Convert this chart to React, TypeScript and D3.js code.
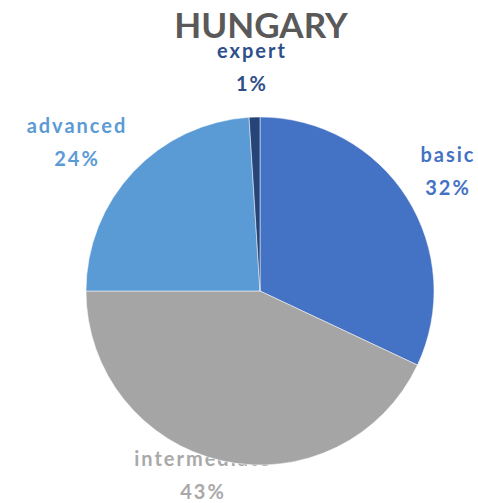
import React, { useEffect, useRef } from 'react';
import * as d3 from 'd3';

const categories = ['basic', 'intermediate', 'advanced', 'expert'];
const values = [32, 43, 24, 1];
const colors = ['#4472C4', '#A5A5A5', '#5B9BD5', '#264478'];
const labelColors = ['#4472C4', '#A9A9A9', '#5B9BD5', '#2E4F8A'];
// label anchor (centre x, first baseline) for each slice, as placed in the source chart
const labelPos: [number, number][] = [
  [447, 162],
  [202, 466],
  [76, 133],
  [251, 58],
];

const App = () => {
  const ref = useRef<SVGSVGElement>(null);

  useEffect(() => {
    const width = 478;
    const height = 503;
    const cx = 260;
    const cy = 291;
    const radius = 174;

    const svg = d3.select(ref.current);
    svg.selectAll('*').remove();
    svg.attr('width', width).attr('height', height);

    const font = 'Lato, "Open Sans", sans-serif';

    // Title
    svg.append('text')
      .attr('x', 261)
      .attr('y', 38)
      .attr('text-anchor', 'middle')
      .style('font-family', font)
      .style('font-size', '35px')
      .style('font-weight', 'bold')
      .style('fill', '#595959')
      .text('HUNGARY');

    const data = categories.map((name, i) => ({ name, value: values[i], i }));

    const pie = d3.pie<{ name: string; value: number; i: number }>()
      .value(d => d.value)
      .sort(null);
    const arcs = pie(data);

    // Labels (drawn before the pie: the intermediate one sits partly under it)
    const labels = svg.append('g');
    arcs.forEach(a => {
      const [x, y] = labelPos[a.data.i];
      const t = labels.append('text')
        .attr('text-anchor', 'middle')
        .style('font-family', font)
        .style('font-size', '20px')
        .style('font-weight', 'bold')
        .style('letter-spacing', '2px')
        .style('fill', labelColors[a.data.i]);
      t.append('tspan').attr('x', x + 1).attr('y', y).text(a.data.name);
      t.append('tspan').attr('x', x + 1).attr('y', y + 33).text(`${a.data.value}%`);
    });

    const arc = d3.arc<d3.PieArcDatum<{ name: string; value: number; i: number }>>()
      .innerRadius(0)
      .outerRadius(radius);

    svg.append('g')
      .attr('transform', `translate(${cx}, ${cy})`)
      .selectAll('path')
      .data(arcs)
      .enter()
      .append('path')
      .attr('d', arc)
      .attr('fill', d => colors[d.data.i])
      .attr('stroke', '#fff')
      .attr('stroke-width', 0.5);
  }, []);

  return (
    <svg ref={ref} style={{ position: 'absolute', left: 0, top: 0, background: '#fff' }}></svg>
  );
};

export default App;
